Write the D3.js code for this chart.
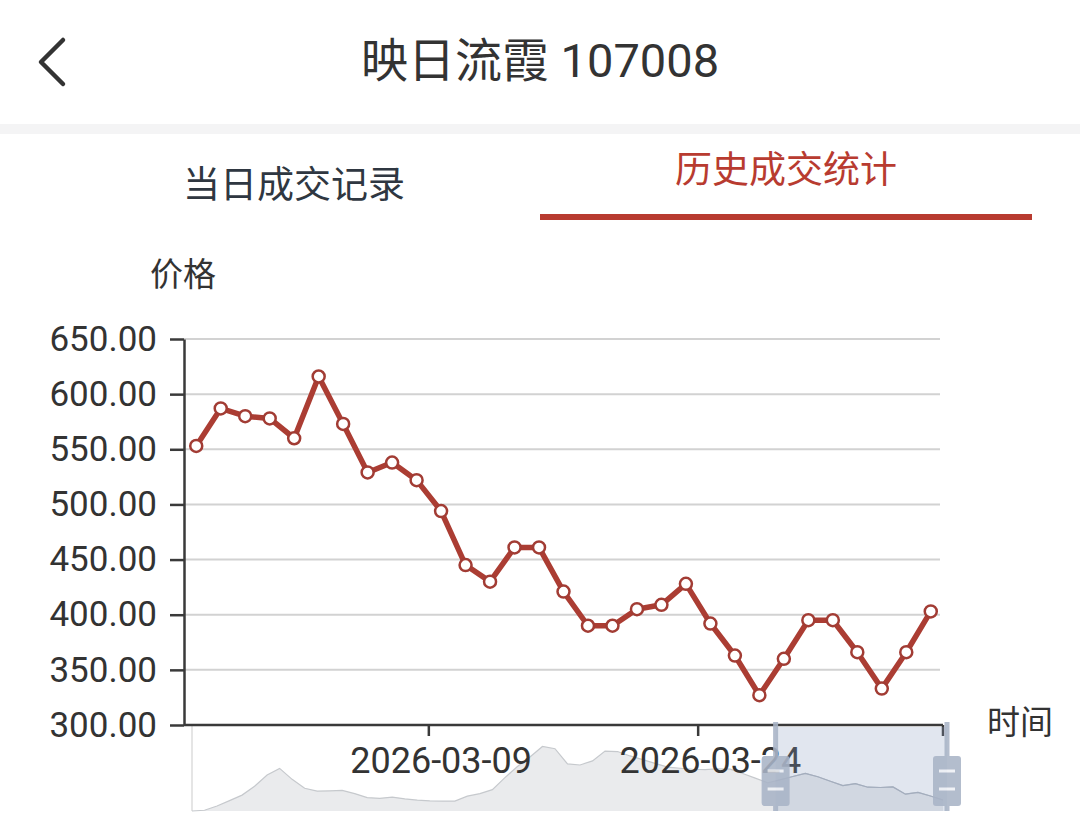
<!DOCTYPE html>
<meta charset="utf-8">
<style type="text/css">
    body { margin: 0; background: #fff; }
    svg { display: block; font-family: Roboto, "Noto Sans CJK SC", sans-serif; }
</style>
<body>
    <div id="canvas"></div>
</body>
<script src="https://d3js.org/d3.v7.min.js"></script>
<script>

// trading days shown in the main chart
var dates = [
    "2026-02-23", "2026-02-24", "2026-02-25", "2026-02-26", "2026-02-27",
    "2026-03-02", "2026-03-03", "2026-03-04", "2026-03-05", "2026-03-06",
    "2026-03-09", "2026-03-10", "2026-03-11", "2026-03-12", "2026-03-13",
    "2026-03-16", "2026-03-17", "2026-03-18", "2026-03-19", "2026-03-20",
    "2026-03-23", "2026-03-24", "2026-03-25", "2026-03-26", "2026-03-27",
    "2026-03-30", "2026-03-31", "2026-04-01", "2026-04-02", "2026-04-03",
    "2026-04-06"
];
var prices = [553, 587, 580, 578, 560, 616, 573, 529, 538, 522,
              494, 445, 430, 461, 461, 421, 390, 390, 405, 409,
              428, 392, 363, 327, 360, 395, 395, 366, 333, 366, 403];

var xLabels = ["2026-03-09", "2026-03-24"];
var yTicks = [300, 350, 400, 450, 500, 550, 600, 650];

// full history used for the slider shadow
var shadowPrices = [250, 256, 289, 330, 373, 442, 529, 580, 495, 426,
                    404, 406, 409, 385, 354, 348, 358, 344, 334, 329,
                    327, 327, 365, 385, 415, 508, 594, 668, 749, 732,
                    614, 606, 638, 714, 710, 676, 647, 618, 590, 581,
                    573, 570, 577, 574, 540, 504, 468, 492, 517, 541,
                    515, 480, 447, 462, 434, 432, 436, 380, 394, 366, 335];
var zoomStart = 77.3, zoomEnd = 100;

var red = "#ab3d33";
var W = 1080, H = 820;
var margin = {top: 339, left: 184};
var width = 943 - margin.left, height = 725 - margin.top;

var svg = d3.select("#canvas").append("svg")
    .attr("width", W).attr("height", H);

svg.append("rect").attr("width", W).attr("height", H).attr("fill", "#fff");

// header
svg.append("path")
    .attr("d", "M63,40 L41,62 L63,84")
    .attr("fill", "none").attr("stroke", "#333").attr("stroke-width", 4.5)
    .attr("stroke-linecap", "round").attr("stroke-linejoin", "round");

svg.append("text")
    .attr("x", 540).attr("y", 60)
    .attr("text-anchor", "middle").attr("dominant-baseline", "central")
    .attr("fill", "#333").style("font-size", "47px")
    .text("映日流霞 107008");

svg.append("rect").attr("x", 0).attr("y", 124).attr("width", W).attr("height", 10)
    .attr("fill", "#f4f4f5");

// tabs
svg.append("text")
    .attr("x", 294).attr("y", 185)
    .attr("text-anchor", "middle").attr("dominant-baseline", "central")
    .attr("fill", "#2f3741").style("font-size", "37px")
    .text("当日成交记录");

svg.append("text")
    .attr("x", 786).attr("y", 170)
    .attr("text-anchor", "middle").attr("dominant-baseline", "central")
    .attr("fill", "#b83b30").style("font-size", "37px")
    .text("历史成交统计");

svg.append("rect").attr("x", 540).attr("y", 214).attr("width", 492).attr("height", 6)
    .attr("fill", "#b83b30");

// slider (dataZoom) below the axis, drawn first so labels sit on top
var sx = d3.scaleLinear().domain([0, shadowPrices.length - 1]).range([192, 943]);
var sy = d3.scaleLinear().domain([250, 900]).range([811, 727]);
var pct = d3.scaleLinear().domain([0, 100]).range([192, 947]);
var h0 = pct(zoomStart), h1 = pct(zoomEnd);

var slider = svg.append("g");

slider.append("line")
    .attr("x1", 192).attr("x2", 192).attr("y1", 726).attr("y2", 811)
    .attr("stroke", "#dcdcdc").attr("stroke-width", 1.5);

var shadowArea = d3.area()
    .x(function(d, i){ return sx(i); })
    .y0(811)
    .y1(function(d){ return sy(d); });
var shadowLine = d3.line()
    .x(function(d, i){ return sx(i); })
    .y(function(d){ return sy(d); });

slider.append("path").datum(shadowPrices)
    .attr("d", shadowArea).attr("fill", "#eaebed");
slider.append("path").datum(shadowPrices)
    .attr("d", shadowLine).attr("fill", "none")
    .attr("stroke", "#c6c9cd").attr("stroke-width", 1.2);

// scales
var x = d3.scaleBand().domain(dates).range([0, width]);
var y = d3.scaleLinear().domain([300, 650]).range([height, 0]);

var g = svg.append("g")
    .attr("transform", "translate(" + margin.left + "," + margin.top + ")");

// grid
g.append("g").selectAll("line")
    .data(yTicks.slice(1))
    .enter().append("line")
        .attr("x1", 0).attr("x2", 756)
        .attr("y1", function(d){ return y(d); })
        .attr("y2", function(d){ return y(d); })
        .attr("stroke", "#d2d2d2").attr("stroke-width", 2);

// x axis labels
var xAxis = g.append("g")
    .attr("transform", "translate(0," + height + ")")
    .call(d3.axisBottom(x).tickValues(xLabels).tickSize(0).tickPadding(22));
xAxis.select(".domain").remove();
xAxis.selectAll("text")
    .attr("fill", "#333").style("font-size", "36px")
    .style("font-family", "Roboto, sans-serif");

// selected window
svg.append("clipPath").attr("id", "sel")
    .append("rect")
    .attr("x", h0).attr("y", 727).attr("width", h1 - h0).attr("height", 84);

svg.append("rect")
    .attr("x", h0).attr("y", 727).attr("width", h1 - h0).attr("height", 84)
    .attr("fill", "rgba(140,160,195,0.26)");
svg.append("path").datum(shadowPrices)
    .attr("clip-path", "url(#sel)")
    .attr("d", shadowLine).attr("fill", "none")
    .attr("stroke", "#a3adbd").attr("stroke-width", 1.2);

// axis lines and ticks
g.append("line")
    .attr("x1", 0).attr("x2", width).attr("y1", height).attr("y2", height)
    .attr("stroke", "#3a3a3a").attr("stroke-width", 2.5);

g.append("g").selectAll("line")
    .data(xLabels.concat(["end"]))
    .enter().append("line")
        .attr("x1", function(d){ return d === "end" ? width : x(d); })
        .attr("x2", function(d){ return d === "end" ? width : x(d); })
        .attr("y1", height).attr("y2", height + 11)
        .attr("stroke", "#3a3a3a").attr("stroke-width", 2.5);

var yAxis = g.append("g")
    .call(d3.axisLeft(y).tickValues(yTicks).tickFormat(d3.format(".2f"))
        .tickSize(14).tickSizeOuter(0).tickPadding(13));
yAxis.select(".domain").attr("stroke", "#3a3a3a").attr("stroke-width", 2.5);
yAxis.selectAll(".tick line").attr("stroke", "#3a3a3a").attr("stroke-width", 2.5);
yAxis.selectAll("text")
    .attr("fill", "#333").style("font-size", "35px")
    .style("font-family", "Roboto, sans-serif");

// axis names
svg.append("text")
    .attr("x", 183).attr("y", 274)
    .attr("text-anchor", "middle").attr("dominant-baseline", "central")
    .attr("fill", "#333").style("font-size", "33px")
    .text("价格");

svg.append("text")
    .attr("x", 1020).attr("y", 722)
    .attr("text-anchor", "middle").attr("dominant-baseline", "central")
    .attr("fill", "#333").style("font-size", "33px")
    .text("时间");

// price line
var line = d3.line()
    .x(function(d, i){ return x(dates[i]) + x.bandwidth() / 2; })
    .y(function(d){ return y(d); });

g.append("path").datum(prices)
    .attr("d", line).attr("fill", "none")
    .attr("stroke", red).attr("stroke-width", 5.5)
    .attr("stroke-linejoin", "round");

g.selectAll("circle")
    .data(prices)
    .enter().append("circle")
        .attr("cx", function(d, i){ return x(dates[i]) + x.bandwidth() / 2; })
        .attr("cy", function(d){ return y(d); })
        .attr("r", 6)
        .attr("fill", "#fff")
        .attr("stroke", "#a23c34").attr("stroke-width", 2.5);

// slider handles
[h0, h1].forEach(function(hx){
    var hg = svg.append("g").attr("opacity", 0.88);
    hg.append("rect")
        .attr("x", hx - 2.5).attr("y", 722).attr("width", 5).attr("height", 89)
        .attr("fill", "#a9b4c7");
    hg.append("rect")
        .attr("x", hx - 14).attr("y", 756).attr("width", 28).attr("height", 50)
        .attr("rx", 3).attr("fill", "#a9b4c7");
    [771, 789].forEach(function(ly){
        hg.append("line")
            .attr("x1", hx - 8).attr("x2", hx + 8)
            .attr("y1", ly).attr("y2", ly)
            .attr("stroke", "#eef1f5").attr("stroke-width", 3);
    });
});

</script>
